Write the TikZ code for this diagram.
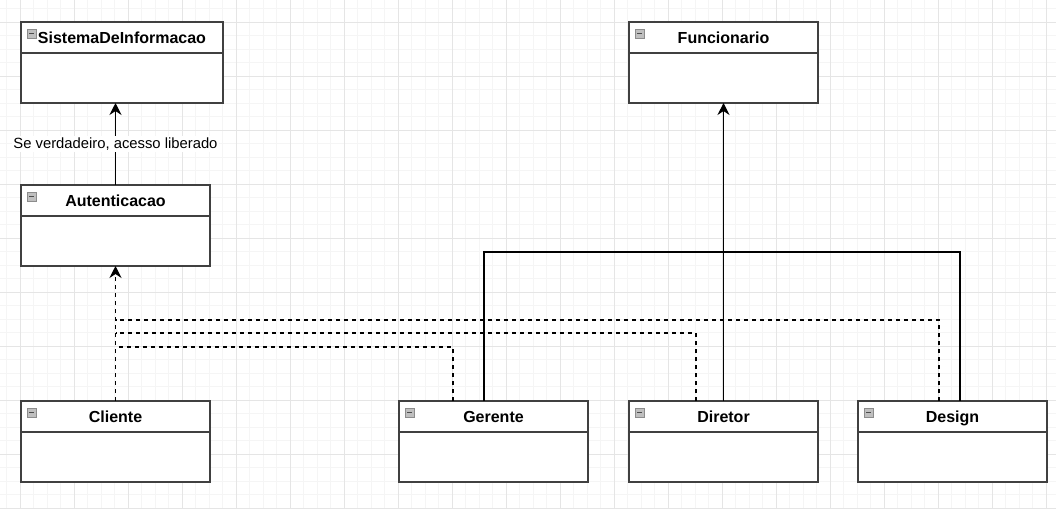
\documentclass[tikz,border=0pt]{standalone}
\usepackage{fontspec}
\setmainfont{Liberation Sans}
\usetikzlibrary{positioning,arrows.meta}

\begin{document}
\begin{tikzpicture}[x=0.75pt,y=-0.75pt,
    gradefina/.style={draw=black!4, line width=0.75pt},
    gradegrossa/.style={draw=black!10, line width=0.75pt},
    cabeca/.style={draw=black!75, line width=1pt, fill=white, minimum width=#1,
      minimum height=23.25pt, inner sep=0pt, outer sep=0pt,
      text height=11.6pt, text depth=2.6pt,
      font=\bfseries\fontsize{12}{14}\selectfont,
      path picture={
        \draw[fill=black!25, draw=black!45, line width=0.6pt]
          ([shift={(6,7)}]path picture bounding box.north west) rectangle ++(9,9);
        \draw[black!70, line width=1.3pt]
          ([shift={(8,11.5)}]path picture bounding box.north west) -- ++(5,0);
      }},
    cabeca/.default=141.75pt,
    corpo/.style={draw=black!75, line width=1pt, fill=white, minimum width=#1,
      minimum height=37.5pt, inner sep=0pt, outer sep=0pt},
    corpo/.default=141.75pt,
    linha/.style={black, line width=0.9pt},
    seta/.style={linha, -{Stealth[length=9pt,width=9pt,inset=3pt]}},
    tracejado/.style={linha, dash pattern=on 3pt off 3pt}]

  \useasboundingbox[fill=white] (0,0) rectangle (1056,508);

  % grade de fundo
  \foreach \i in {-1,...,76}
    \draw[gradefina] ({20+13.5*\i},0) -- ({20+13.5*\i},508);
  \foreach \j in {-1,...,36}
    \draw[gradefina] (0,{22+13.5*\j}) -- (1056,{22+13.5*\j});
  \foreach \i in {0,...,19}
    \draw[gradegrossa] ({20+54*\i},0) -- ({20+54*\i},508);
  \foreach \j in {0,...,9}
    \draw[gradegrossa] (0,{22+54*\j}) -- (1056,{22+54*\j});

  % classes
  \node[cabeca=151.5pt] (sistema) at (122,37.5) {SistemaDeInformacao};
  \node[corpo=151.5pt, below=0pt of sistema] (sistemab) {};
  \node[cabeca] (autent) at (115.5,200.5) {Autenticacao};
  \node[corpo, below=0pt of autent] (autentb) {};
  \node[cabeca] (funcion) at (723.5,37.5) {Funcionario};
  \node[corpo, below=0pt of funcion] (funcionb) {};
  \node[cabeca] (cliente) at (115.5,416.5) {Cliente};
  \node[corpo, below=0pt of cliente] (clienteb) {};
  \node[cabeca] (gerente) at (493.5,416.5) {Gerente};
  \node[corpo, below=0pt of gerente] (gerenteb) {};
  \node[cabeca] (diretor) at (723.5,416.5) {Diretor};
  \node[corpo, below=0pt of diretor] (diretorb) {};
  \node[cabeca] (design) at (952.5,416.5) {Design};
  \node[corpo, below=0pt of design] (designb) {};

  % pontos de juncao
  \coordinate (jgerente) at (116,347);
  \coordinate (jdiretor) at (116,333);
  \coordinate (jdesign) at (116,320);
  \coordinate (jfuncion) at (723.5,252);

  % ligacoes
  \draw[seta] (autent.north) -- (autent.north |- sistemab.south)
    node[midway, fill=white, inner sep=1pt, font=\fontsize{11.1}{13}\selectfont]
    {Se verdadeiro, acesso liberado};
  \draw[seta, dash pattern=on 3pt off 3pt] (cliente.north) -- (autentb.south);
  \draw[tracejado] ([xshift=-30.4pt]gerente.north) |- (jgerente);
  \draw[tracejado] ([xshift=-20.6pt]diretor.north) |- (jdiretor);
  \draw[tracejado] ([xshift=-10.1pt]design.north) |- (jdesign);
  \draw[seta] (diretor.north) -- (funcionb.south);
  \draw[linha] ([xshift=-7.1pt]gerente.north) |- (jfuncion)
    -| ([xshift=5.6pt]design.north);
\end{tikzpicture}
\end{document}
